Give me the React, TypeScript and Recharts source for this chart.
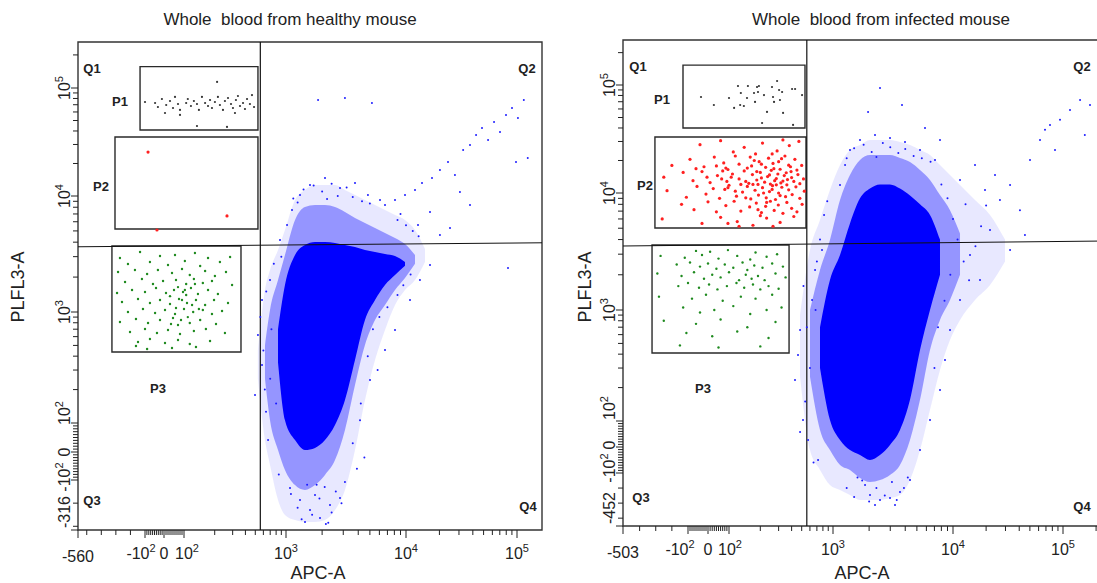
import React from 'react';
import { ComposedChart, Area, Scatter, XAxis, YAxis, ReferenceArea, ReferenceLine } from 'recharts';

type Pt = [number, number];
type Range = [number, number] | null;
type Gate = [number, number, number, number]; // apcMin, apcMax, plMin, plMax

const FONT = '"Liberation Sans", Arial, sans-serif';
const INK = '#222';

// biexponential display calibration: [value, distance along the axis]
const healthyXCal: Pt[] = [[-560, 0], [-100, 67], [0, 86], [100, 106], [1000, 208], [10000, 328], [100000, 439], [170000, 464]];
const healthyYCal: Pt[] = [[-316, 0], [-100, 50], [0, 78], [100, 107], [1000, 218], [10000, 334], [100000, 442], [262144, 488]];
const infectedXCal: Pt[] = [[-503, 0], [-100, 65], [0, 85], [100, 106], [1000, 210], [10000, 330], [100000, 440], [262144, 486]];
const infectedYCal: Pt[] = [[-452, 0], [-100, 53], [0, 79], [100, 105], [1000, 216], [10000, 333], [100000, 441], [262144, 486]];

// tick values and labels
const majorValues = [-100, 0, 100, 1000, 10000, 100000];
const majorLabels: [string, string][] = [['-10', '2'], ['0', ''], ['10', '2'], ['10', '3'], ['10', '4'], ['10', '5']];
const linearMinor = [-90, -80, -70, -60, -50, -40, -30, -20, -10, 10, 20, 30, 40, 50, 60, 70, 80, 90];
const logMinor = [100, 1000, 10000].flatMap((d) => [2, 3, 4, 5, 6, 7, 8, 9].map((m) => m * d)).concat([200000]);

// ---- healthy mouse ----
const healthyBlobApc = [530, 622, 697, 835, 977, 1189, 1440, 1745, 2113, 2560, 3100, 3758, 4550, 5517, 6683, 8097, 9810, 12050, 14830];
const healthyHalo: Range[] = [[250, 450], [41, 1548], [-46, 2302], [-186, 3424], [-251, 5090], [-273, 9240], [-281, 11380], [-281, 12640], [-273, 12640], [-230, 12640], [-143, 11380], [7, 10200], [161, 9240], [370, 8360], [689, 7570], [1149, 6850], [1548, 6210], [1888, 5090], [2700, 3500]];
const healthyMid: Range[] = [null, [250, 500], [106, 1040], [7, 1888], [-64, 3100], [-122, 6210], [-143, 8030], [-122, 8360], [-82, 8360], [-29, 8030], [76, 7280], [220, 6450], [505, 5850], [847, 5300], [1149, 4800], [1548, 4345], [1965, 3855], [2600, 3100], null];
const healthyCore: Range[] = [null, null, null, [350, 700], [106, 1710], [41, 3100], [7, 3780], [14, 4010], [41, 4010], [93, 3935], [161, 3780], [370, 3630], [847, 3424], [1269, 3290], [1710, 3160], [2085, 3040], [2500, 2700], null, null];
const healthyBlue: Pt[] = [
  [1850, 77400], [3100, 80800], [5200, 72600],
  [6680, 8360], [8100, 9240], [9810, 10200], [12050, 11380], [13930, 13200], [17150, 14680], [20230, 17400], [23900, 20650], [27600, 15650], [32700, 26700], [37700, 29650], [42800, 36700], [48400, 42700], [54900, 33000], [62100, 48400], [70300, 39100], [79600, 56300], [90200, 65300], [102000, 52700], [115600, 77400], [125600, 22500], [97900, 20650], [30600, 10900], [37700, 8360], [16450, 7280], [12830, 5620], [83000, 2395], [20230, 4620], [24900, 5300],
  [1308, 10200], [1585, 12640], [2113, 14700], [2818, 11860], [3758, 13200], [4820, 10200], [6072, 9240], [1122, 7570], [1020, 5620], [873, 4175],
  [531, 621], [582, 333], [497, 179], [637, 126], [582, 1269], [697, 1888], [667, 41],
  [1308, -186], [1585, -230], [1920, -264], [2326, -208], [2818, -178], [1745, -165], [1080, -135], [3100, -109], [2150, -290], [1440, -281],
  [4137, 106], [5012, 244], [6683, 455], [8097, 689], [10870, 1269], [13360, 1888], [16450, 2540],
  [560, 900], [600, 450], [640, 1500], [700, 250], [720, 700], [760, 2600], [800, 150], [850, -80], [900, 3000], [620, 200],
  [1150, 9500], [1400, 11500], [1700, 12500], [2000, 11000], [2400, 13000], [2700, 10000], [3200, 12000], [3600, 9800], [4300, 9000], [5000, 8600], [1250, 8800], [2200, 9400],
  [1100, -160], [1250, -220], [1500, -120], [1650, -250], [1900, -180], [2100, -130], [2400, -240], [2600, -150], [2900, -200], [1350, -270], [1800, -120], [2250, -285],
  [3600, 30], [3900, -60], [4200, 150], [4800, 400], [5300, 700], [6000, 900], [7000, 1100], [8500, 1400], [9500, 1700], [11000, 2100], [4500, -20], [5800, 300],
  [8500, 6200], [10000, 5600], [11500, 5000], [13000, 4500], [9000, 7000],
];
const healthyP1: Pt[] = [
  [-100, 74200], [-47, 72600], [-32, 66700], [-11, 79100], [11, 69600], [30, 75800], [45, 65300], [55, 82600], [70, 71100], [80, 62600], [105, 72600], [109, 79100], [117, 68100], [125, 75800], [134, 71100], [140, 62600], [150, 82600], [161, 72600], [172, 68100], [180, 77400], [188, 65300], [201, 74200], [215, 82600], [225, 69600], [241, 62600], [252, 75800], [270, 80800], [289, 71100], [302, 65300], [323, 77400], [338, 84300], [354, 68100], [379, 72600], [396, 63900], [415, 79100], [443, 71100], [464, 86000], [486, 66700], [211, 113600], [134, 44500], [264, 43600], [5, 58700], [80, 56300], [316, 58700],
];
const healthyP2: Pt[] = [[-84, 25500], [264, 6730], [-37, 5090]];
const healthyP3: Pt[] = [
  [-272, 2920], [-134, 3290], [-21, 3040], [55, 3100], [128, 3230], [172, 2920], [283, 2980],
  [-217, 2590], [-74, 2700], [20, 2540], [102, 2750], [144, 2490], [225, 2700],
  [-285, 2212], [-169, 2302], [-89, 2126], [-32, 2302], [40, 2168], [90, 2350], [114, 2085], [161, 2256], [201, 2043], [258, 2212],
  [-237, 1814], [-121, 1924], [-58, 1743], [-5, 1850], [60, 1888], [105, 1743], [125, 1924], [153, 1778], [188, 1850], [296, 1710],
  [-292, 1458], [-189, 1548], [-100, 1487], [-42, 1610], [10, 1458], [50, 1548], [95, 1487], [117, 1610], [137, 1429], [172, 1548], [215, 1429],
  [-258, 1219], [-148, 1294], [-74, 1195], [-21, 1269], [30, 1172], [75, 1294], [107, 1195], [131, 1269], [161, 1149], [197, 1269], [270, 1195],
  [-217, 1000], [-114, 1061], [-47, 980], [5, 1040], [55, 960], [100, 1061], [123, 1000], [153, 1040], [188, 960], [236, 1020],
  [-272, 812], [-162, 865], [-84, 795], [-21, 847], [35, 779], [85, 847], [114, 795], [144, 847], [206, 779],
  [-203, 661], [-100, 703], [-37, 647], [20, 689], [80, 634], [125, 675], [164, 703], [252, 647],
  [-148, 537], [-74, 571], [5, 526], [70, 559], [114, 515], [180, 548],
  [-89, 464], [40, 474], [131, 484], [-162, 494],
  [70, 1640], [105, 1400], [120, 1149], [60, 1083], [109, 900], [30, 1370], [128, 1743], [90, 1269], [45, 882], [140, 1061], [102, 1548], [70, 763],
];
const healthyGates: Gate[] = [[-134, 531, 40800, 156500], [-306, 531, 5195, 35200], [-327, 362, 436, 3707]];

// ---- infected mouse ----
const infectedBlobApc = [482, 601, 750, 935, 1144, 1385, 1679, 2033, 2463, 2985, 3616, 4382, 5309, 6431, 7791, 9440, 11580, 15850, 21700, 29700];
const infectedHalo: Range[] = [[250, 900], [-12, 3260], [-88, 5880], [-180, 10660], [-213, 18150], [-246, 25000], [-279, 27800], [-279, 30970], [-279, 30970], [-266, 30970], [-246, 29650], [-147, 27800], [-12, 25000], [126, 22500], [288, 18150], [536, 14680], [812, 11860], [1218, 8710], [1637, 6490], [2600, 4000]];
const infectedMid: Range[] = [null, [250, 1000], [65, 2200], [-12, 3970], [-69, 8710], [-88, 14680], [-133, 20200], [-160, 22500], [-147, 22500], [-113, 22500], [-69, 21100], [27, 19360], [155, 16340], [436, 13200], [812, 9610], [1218, 7130], [2000, 4500], null, null, null];
const infectedCore: Range[] = [null, null, [300, 700], [102, 1806], [27, 2950], [-12, 5500], [-31, 9000], [-50, 11000], [-31, 12000], [8, 12000], [65, 11000], [155, 9500], [436, 8000], [1000, 6500], [2000, 4000], null, null, null, null, null];
const infectedBlue: Pt[] = [
  [2463, 93800], [1960, 56300], [3758, 65300], [5843, 40000], [7791, 31000],
  [11580, 13200], [15850, 18150], [19540, 10660], [24100, 14680], [26700, 8710], [33000, 11860], [40600, 7130], [50100, 20200], [61800, 31000], [68600, 38500], [76200, 42700], [93900, 47600], [115800, 58800], [143000, 72600], [176000, 65300], [158000, 34400], [84600, 25000], [45100, 4375], [21700, 4830], [33000, 3260], [14280, 2950], [17600, 1806],
  [482, 662], [431, 234], [515, 102], [576, 27], [629, 1218], [461, 393], [672, 2200], [718, -50], [784, 3260], [482, 58],
  [2033, -246], [2463, -279], [2985, -266], [3616, -226], [1849, -180], [4382, -147], [2238, -313], [3285, -313],
  [1385, 25000], [1679, 31000], [2238, 34400], [2985, 32300], [3981, 29650], [5309, 25000], [7079, 20200], [1260, 18150], [1144, 11860],
  [11580, 1218], [9440, 662], [8577, 354], [7791, 190], [6431, 102], [5309, -12],
  [520, 1600], [560, 700], [600, 300], [650, -60], [700, 2600], [750, 4000], [820, 6500], [880, 8500], [540, 150], [680, 1000],
  [1300, 21000], [1500, 26000], [1800, 28000], [2100, 24000], [2600, 29000], [3000, 26500], [3500, 23500], [4000, 25500], [4700, 22000], [5500, 21000], [6500, 19500], [2300, 21500],
  [1300, -200], [1500, -260], [1750, -150], [2000, -290], [2300, -200], [2700, -250], [3100, -160], [3400, -280], [3900, -200], [4200, -130], [1600, -130],
  [8000, 12000], [9000, 9000], [10000, 6000], [11000, 4000], [12500, 2600], [14000, 1800], [16000, 3500], [18000, 5200], [20000, 7800], [9500, 2000], [8500, 1200], [13000, 8000], [7500, 700], [7000, 300],
];
const infectedP1: Pt[] = [
  [-35, 77400], [28, 65300], [100, 75800], [112, 61300], [122, 97900], [130, 84300], [128, 65300], [139, 63900], [149, 75800], [152, 97900], [174, 84300], [178, 69700], [186, 95800], [190, 86100], [194, 97900], [217, 80700], [232, 56300], [259, 95800], [265, 77400], [271, 69700], [290, 108900], [303, 89900], [309, 72600], [331, 55100], [404, 91800], [432, 91800], [504, 80700], [208, 44500], [413, 42700], [324, 86100],
];
const infectedP2: Pt[] = [
  [-40, 28000], [60, 30500], [140, 26500], [210, 29000], [290, 24500], [380, 27500], [470, 30000], [180, 23000], [330, 31000], [110, 24000],
  [-200, 18000], [-90, 20500], [-20, 17500], [30, 21500], [75, 19000], [115, 22000], [150, 17000], [175, 20000], [205, 18500], [240, 21000], [270, 16800], [300, 19500], [345, 22000], [390, 17500], [430, 20500], [500, 18000], [260, 23000], [95, 16500], [-60, 16800], [160, 21500],
  [-250, 14000], [-130, 15500], [-75, 13000], [-30, 15800], [10, 12500], [45, 14500], [70, 16000], [90, 12800], [108, 15000], [125, 13500], [140, 16000], [155, 12300], [168, 14800], [185, 13200], [200, 15500], [220, 12600], [235, 14200], [255, 16200], [275, 13000], [295, 15000], [315, 12400], [340, 14500], [365, 13300], [395, 15800], [420, 12800], [460, 14800], [520, 13500], [250, 12100], [130, 12000], [-5, 14000],
  [-230, 10500], [-110, 9200], [-55, 11500], [-10, 9800], [25, 11000], [55, 9000], [80, 10800], [100, 11800], [118, 9400], [135, 10200], [150, 11500], [162, 8900], [178, 10600], [192, 9600], [210, 11200], [228, 9100], [245, 10300], [262, 11700], [280, 8800], [300, 10000], [322, 11300], [350, 9300], [375, 10700], [405, 9700], [440, 11400], [480, 9000], [530, 10400], [190, 12000], [285, 11900], [145, 9100],
  [-140, 8000], [-70, 7200], [0, 8400], [40, 6900], [85, 7800], [112, 8500], [130, 7000], [158, 7600], [183, 8200], [205, 6800], [225, 7700], [250, 8500], [272, 7100], [298, 7900], [330, 6700], [360, 8300], [400, 7400], [450, 6900], [505, 8000], [190, 7200],
  [-260, 6000], [-30, 5500], [60, 6200], [120, 5700], [170, 5300], [230, 6100], [310, 5600], [420, 6300], [265, 5200], [200, 6400], [95, 5500], [125, 5200],
  [85, 17000], [105, 14000], [125, 18500], [145, 12800], [165, 17800], [185, 15800], [205, 13800], [225, 17300], [245, 14700], [265, 18800], [285, 13600], [310, 16600], [330, 12900], [355, 15400], [375, 18100], [95, 11200], [115, 10400], [170, 12000], [215, 10000], [260, 10800], [310, 9500], [360, 11900], [400, 13900], [450, 16300], [480, 12200], [65, 13500], [40, 17800], [195, 19500], [320, 20800], [230, 8300],
];
const infectedP3: Pt[] = [
  [-60, 3200], [10, 3150], [95, 3250], [180, 3100], [-270, 2900], [-120, 2800], [-30, 2950], [50, 2750], [120, 2900], [160, 2700], [230, 2850], [290, 3000],
  [-170, 2450], [-90, 2550], [-40, 2350], [0, 2500], [40, 2250], [80, 2450], [110, 2300], [135, 2550], [150, 2200], [175, 2400], [210, 2300], [260, 2500], [330, 2350],
  [-290, 2050], [-140, 1950], [-70, 2100], [-20, 1850], [20, 2000], [60, 1900], [100, 2100], [125, 1800], [145, 2000], [165, 1850], [190, 1950], [220, 1800], [280, 2050], [350, 1900],
  [-160, 1600], [-100, 1700], [-45, 1550], [5, 1650], [45, 1500], [90, 1600], [118, 1700], [140, 1550], [170, 1650], [200, 1500], [240, 1600], [300, 1520],
  [-280, 1300], [-80, 1250], [-10, 1350], [70, 1200], [130, 1300], [180, 1250], [260, 1350],
  [-130, 1050], [-40, 950], [30, 1000], [110, 1080], [160, 920], [230, 1000], [320, 1050],
  [-250, 800], [-60, 750], [60, 820], [150, 700], [280, 780],
  [-110, 620], [20, 580], [120, 640], [240, 560],
  [-150, 480], [50, 460], [200, 470],
];
const infectedGates: Gate[] = [[-131, 538, 40000, 153000], [-305, 550, 5020, 33000], [-323, 378, 410, 3594]];

// ---------------------------------------------------------------

function makeScale(cal: Pt[]) {
  return (v: number) => {
    let i = 0;
    while (i < cal.length - 2 && v > cal[i + 1][0]) i++;
    const [v0, p0] = cal[i];
    const [v1, p1] = cal[i + 1];
    const f = v0 >= 100 && v1 >= 100
      ? Math.log10(v / v0) / Math.log10(v1 / v0)
      : (v - v0) / (v1 - v0);
    return p0 + f * (p1 - p0);
  };
}

interface TickMark { pos: number; major: boolean; base: string; exp: string; shift: number; isMin: boolean }

function buildTicks(cal: Pt[], shifts: number[], negMinor: number[]): TickMark[] {
  const T = makeScale(cal);
  const min = cal[0][0];
  const max = cal[cal.length - 1][0];
  const out: TickMark[] = [{ pos: T(min), major: true, base: String(min), exp: '', shift: 0, isMin: true }];
  majorValues.forEach((v, i) =>
    out.push({ pos: T(v), major: true, base: majorLabels[i][0], exp: majorLabels[i][1], shift: shifts[i], isMin: false }));
  [...negMinor, ...linearMinor, ...logMinor].filter((v) => v < max).forEach((v) =>
    out.push({ pos: T(v), major: false, base: '', exp: '', shift: 0, isMin: false }));
  return out;
}

const nearest = (ticks: TickMark[], v: number) =>
  ticks.reduce((a, b) => (Math.abs(b.pos - v) < Math.abs(a.pos - v) ? b : a));

const XTick = ({ x, y, payload, marks }: any) => {
  const t: TickMark = nearest(marks, payload.value);
  return (
    <g>
      <line x1={x} x2={x} y1={y} y2={y + (t.major ? 8 : 5)} stroke={INK} strokeWidth={1} />
      {t.base && (
        <text x={x + t.shift} y={y + (t.isMin ? 32 : 29)} textAnchor="middle" fontSize={16} fontFamily={FONT} fill={INK}>
          {t.base}
          {t.exp && <tspan dy={-7} fontSize={11}>{t.exp}</tspan>}
        </text>
      )}
    </g>
  );
};

const YTick = ({ x, y, payload, marks }: any) => {
  const t: TickMark = nearest(marks, payload.value);
  const tx = x - 8;
  const ty = t.isMin ? y - 2 : y + t.shift;
  return (
    <g>
      <line x1={x} x2={x - (t.major ? 7 : 5)} y1={y} y2={y} stroke={INK} strokeWidth={1} />
      {t.base && (
        <text transform={`rotate(-90 ${tx} ${ty})`} x={tx} y={ty} textAnchor={t.isMin ? 'start' : 'middle'} fontSize={16} fontFamily={FONT} fill={INK}>
          {t.base}
          {t.exp && <tspan dy={-7} fontSize={11}>{t.exp}</tspan>}
        </text>
      )}
    </g>
  );
};

const dot = (color: string, r: number) => (p: any) => <circle cx={p.cx} cy={p.cy} r={r} fill={color} />;

interface PanelProps {
  left: number; marginTop: number; marginRight: number; xAxisHeight: number;
  xCal: Pt[]; yCal: Pt[]; xShift: number[]; yShift: number[]; xNegMinor: number[]; yNegMinor: number[];
  blobApc: number[]; halo: Range[]; mid: Range[]; core: Range[];
  blue: Pt[]; p1: Pt[]; p2: Pt[]; p3: Pt[]; gates: Gate[];
  vLine: number; hLine: [number, number];
}

function FlowPanel(p: PanelProps) {
  const X = makeScale(p.xCal);
  const Y = makeScale(p.yCal);
  const xEnd = p.xCal[p.xCal.length - 1][1];
  const yEnd = p.yCal[p.yCal.length - 1][1];
  const xMarks = buildTicks(p.xCal, p.xShift, p.xNegMinor);
  const yMarks = buildTicks(p.yCal, p.yShift, p.yNegMinor);
  const tr = (r: Range) => (r ? [Y(r[0]), Y(r[1])] : undefined);
  const rows = p.blobApc.map((a, i) => {
    const row: any = { x: X(a) };
    if (p.halo[i]) row.halo = tr(p.halo[i]);
    if (p.mid[i]) row.mid = tr(p.mid[i]);
    if (p.core[i]) row.core = tr(p.core[i]);
    return row;
  });
  const pts = (list: Pt[]) => list.map(([a, b]) => ({ x: X(a), y: Y(b) }));
  const width = 78 + xEnd + p.marginRight;
  return (
    <div style={{ position: 'absolute', left: p.left, top: 0 }}>
      <ComposedChart width={width} height={583} data={rows}
        margin={{ top: p.marginTop, right: p.marginRight, bottom: 0, left: 0 }}>
        <XAxis type="number" dataKey="x" domain={[0, xEnd]} allowDataOverflow
          ticks={xMarks.map((t) => t.pos)} interval={0} height={p.xAxisHeight}
          axisLine={false} tickLine={false} tickSize={0} tickMargin={0}
          tick={(props: any) => <XTick {...props} marks={xMarks} />} />
        <YAxis type="number" dataKey="y" domain={[0, yEnd]} allowDataOverflow
          ticks={yMarks.map((t) => t.pos)} interval={0} width={78}
          axisLine={false} tickLine={false} tickSize={0} tickMargin={0}
          tick={(props: any) => <YTick {...props} marks={yMarks} />} />
        <Area dataKey="halo" type="monotone" stroke="none" fill="#1a1aff" fillOpacity={0.1} isAnimationActive={false} />
        <Area dataKey="mid" type="monotone" stroke="none" fill="#1a1aff" fillOpacity={0.4} isAnimationActive={false} />
        <Area dataKey="core" type="monotone" stroke="none" fill="#0000ff" fillOpacity={1} isAnimationActive={false} />
        <Scatter data={pts(p.blue)} shape={dot('#1a1aff', 1)} isAnimationActive={false} />
        <Scatter data={pts(p.p1)} shape={dot('#333333', 1.1)} isAnimationActive={false} />
        <Scatter data={pts(p.p2)} shape={dot('#ff2020', 1.6)} isAnimationActive={false} />
        <Scatter data={pts(p.p3)} shape={dot('#1f8a1f', 1.2)} isAnimationActive={false} />
        {p.gates.map((g, i) => (
          <ReferenceArea key={i} x1={X(g[0])} x2={X(g[1])} y1={Y(g[2])} y2={Y(g[3])}
            fill="none" fillOpacity={0} stroke="#2a2a2a" strokeWidth={1.4} ifOverflow="visible" />
        ))}
        <ReferenceLine x={X(p.vLine)} stroke="#111" strokeWidth={1.2} />
        <ReferenceLine segment={[{ x: 0, y: Y(p.hLine[0]) }, { x: xEnd, y: Y(p.hLine[1]) }]} stroke="#111" strokeWidth={1} ifOverflow="visible" />
        <ReferenceArea x1={0} x2={xEnd} y1={0} y2={yEnd} fill="none" fillOpacity={0} stroke="#333" strokeWidth={1.4} ifOverflow="visible" />
      </ComposedChart>
    </div>
  );
}

const qStyle = { fontSize: 13, fontWeight: 700 as const, fill: INK };

export default function App() {
  return (
    <div style={{ position: 'absolute', left: 0, top: 0, width: 1097, height: 583, overflow: 'hidden', background: '#fff' }}>
      <FlowPanel left={0} marginTop={42} marginRight={12} xAxisHeight={53}
        xCal={healthyXCal} yCal={healthyYCal} xShift={[-4, 0, 3, 0, 0, 0]} yShift={[-3, 0, -10, 0, 0, 0]}
        xNegMinor={[-500, -400, -300, -200]} yNegMinor={[-300, -200]}
        blobApc={healthyBlobApc} halo={healthyHalo} mid={healthyMid} core={healthyCore}
        blue={healthyBlue} p1={healthyP1} p2={healthyP2} p3={healthyP3} gates={healthyGates}
        vLine={560} hLine={[3650, 3950]} />
      <FlowPanel left={545} marginTop={40} marginRight={11} xAxisHeight={57}
        xCal={infectedXCal} yCal={infectedYCal} xShift={[-8, 0, 1, 0, 0, 0]} yShift={[-5, -2, -13, 0, 0, 0]}
        xNegMinor={[-400, -300, -200]} yNegMinor={[-400, -300, -200]}
        blobApc={infectedBlobApc} halo={infectedHalo} mid={infectedMid} core={infectedCore}
        blue={infectedBlue} p1={infectedP1} p2={infectedP2} p3={infectedP3} gates={infectedGates}
        vLine={560} hLine={[3524, 3890]} />
      <svg width={1097} height={583} style={{ position: 'absolute', left: 0, top: 0, pointerEvents: 'none' }} fontFamily={FONT}>
        <text x={290} y={25} textAnchor="middle" fontSize={17} fill={INK} style={{ whiteSpace: 'pre' }}>Whole  blood from healthy mouse</text>
        <text x={881} y={25} textAnchor="middle" fontSize={17} fill={INK} style={{ whiteSpace: 'pre' }}>Whole  blood from infected mouse</text>
        <text x={318} y={579} textAnchor="middle" fontSize={18} fill={INK}>APC-A</text>
        <text x={862} y={579} textAnchor="middle" fontSize={18} fill={INK}>APC-A</text>
        <text transform="rotate(-90 24 287)" x={24} y={287} textAnchor="middle" fontSize={18} fill={INK}>PLFL3-A</text>
        <text transform="rotate(-90 591 287)" x={591} y={287} textAnchor="middle" fontSize={18} fill={INK}>PLFL3-A</text>
        <g dominantBaseline="central" textAnchor="middle">
          <text x={92} y={68} {...qStyle}>Q1</text>
          <text x={527} y={68} {...qStyle}>Q2</text>
          <text x={92} y={500} {...qStyle}>Q3</text>
          <text x={528} y={506} {...qStyle}>Q4</text>
          <text x={120} y={101} {...qStyle}>P1</text>
          <text x={101} y={186} {...qStyle}>P2</text>
          <text x={158} y={388} {...qStyle}>P3</text>
          <text x={638} y={66} {...qStyle}>Q1</text>
          <text x={1082} y={66} {...qStyle}>Q2</text>
          <text x={641} y={497} {...qStyle}>Q3</text>
          <text x={1082} y={506} {...qStyle}>Q4</text>
          <text x={662} y={99} {...qStyle}>P1</text>
          <text x={645} y={185} {...qStyle}>P2</text>
          <text x={703} y={388} {...qStyle}>P3</text>
        </g>
      </svg>
    </div>
  );
}
